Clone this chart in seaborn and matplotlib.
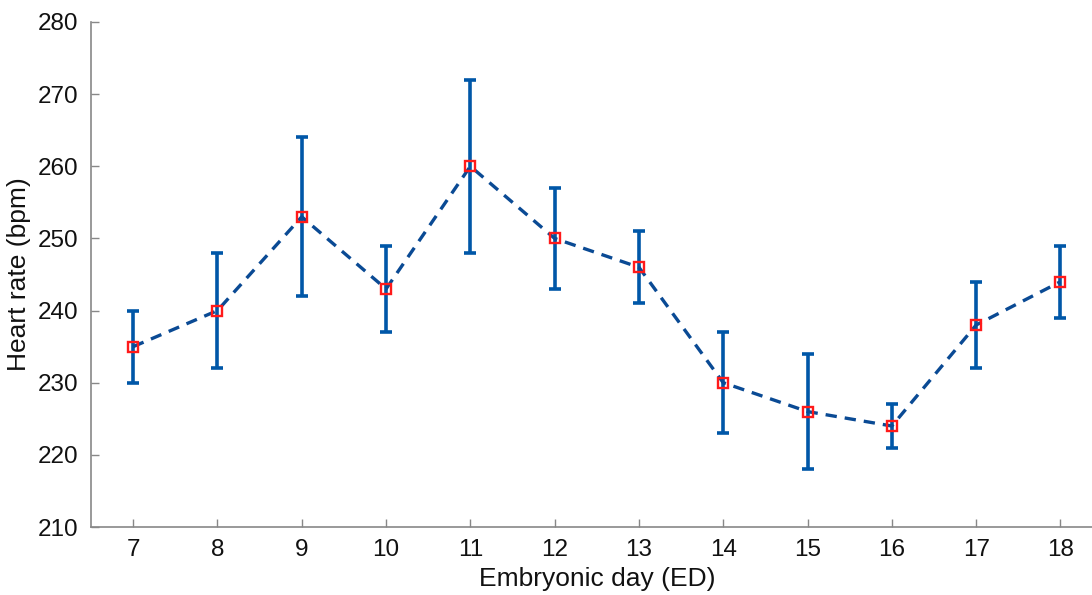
import numpy as np
import pandas as pd
import matplotlib
matplotlib.use("Agg")
import matplotlib.pyplot as plt
import seaborn as sns

# data
days = [7, 8, 9, 10, 11, 12, 13, 14, 15, 16, 17, 18]
heart_rate = [235, 240, 253, 243, 260, 250, 246, 230, 226, 224, 238, 244]
err = [5, 8, 11, 6, 12, 7, 5, 7, 8, 3, 6, 5]
y_ticks = [210, 220, 230, 240, 250, 260, 270, 280]

df = pd.DataFrame({"day": days, "hr": heart_rate, "err": err})

sns.set_style("white")
plt.rcParams["font.family"] = ["Liberation Sans", "DejaVu Sans"]

W, H = 1092, 595
fig = plt.figure(figsize=(W / 100, H / 100), dpi=100)
# axes box in pixels: left 91, bottom 527, top 22; x-range 6.5..18.5 runs past the right edge
ax = fig.add_axes([91 / W, (H - 527) / H, 1011.6 / W, (527 - 22) / H])

ax.errorbar(df["day"], df["hr"], yerr=df["err"], fmt="none",
            ecolor="#0057a8", elinewidth=2.6, capsize=4.2, capthick=2.6, zorder=2)
sns.lineplot(data=df, x="day", y="hr", ax=ax, color="#0a4a94",
             linestyle=(0, (3.4, 2.4)), linewidth=2.4, zorder=3)
ax.plot(df["day"], df["hr"], linestyle="none", marker="s", markersize=6.5,
        markerfacecolor="none", markeredgecolor="#ff1a1a", markeredgewidth=1.7, zorder=4)

ax.set_xlim(6.5, 18.5)
ax.set_ylim(210, 280)
ax.set_xticks(days)
ax.set_yticks(y_ticks)
ax.set_xlabel("Embryonic day (ED)", fontsize=19, color="#111111", labelpad=4)
ax.set_ylabel("Heart rate (bpm)", fontsize=19, color="#111111", labelpad=5)

for side in ["top", "right"]:
    ax.spines[side].set_visible(False)
for side in ["left", "bottom"]:
    ax.spines[side].set_color("#888888")
    ax.spines[side].set_linewidth(1.2)
ax.tick_params(axis="both", direction="in", length=6, width=1.0, color="#888888",
               labelsize=17.5, labelcolor="#111111", pad=9, bottom=True, left=True)

fig.savefig("out.png", dpi=100)
